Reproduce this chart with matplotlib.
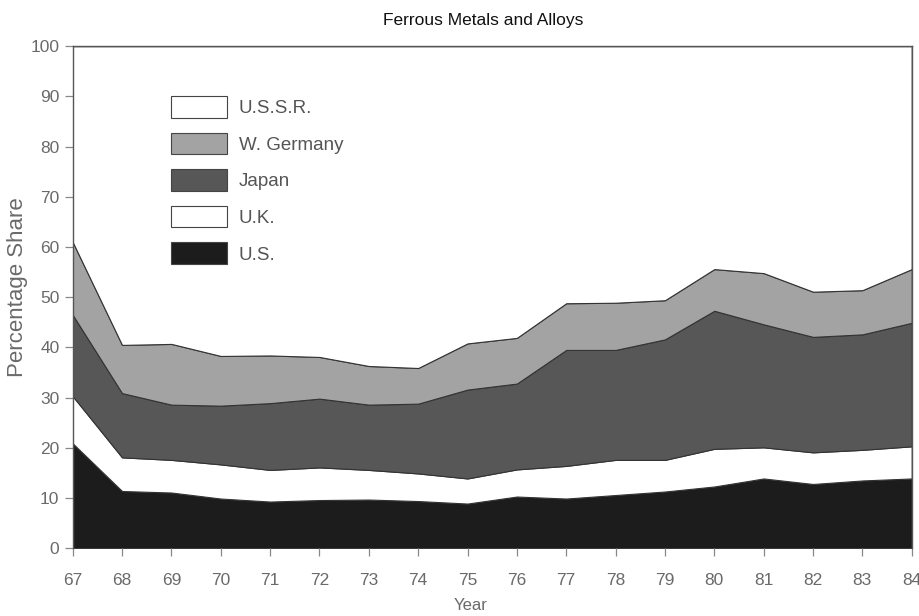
import matplotlib.pyplot as plt

years = [67, 68, 69, 70, 71, 72, 73, 74, 75, 76, 77, 78, 79, 80, 81, 82, 83, 84]
us = [20.9, 11.4, 11.1, 9.9, 9.3, 9.6, 9.7, 9.4, 8.9, 10.3, 9.9, 10.6, 11.3, 12.3, 13.9, 12.8, 13.5, 13.9]
uk = [9.4, 6.7, 6.5, 6.8, 6.3, 6.5, 5.9, 5.5, 5.0, 5.4, 6.5, 7.0, 6.3, 7.5, 6.2, 6.3, 6.1, 6.4]
japan = [16.2, 12.8, 11.0, 11.7, 13.3, 13.7, 13.0, 13.9, 17.7, 17.1, 23.1, 21.9, 24.0, 27.5, 24.5, 23.0, 23.0, 24.6]
w_germany = [14.5, 9.6, 12.1, 9.9, 9.5, 8.3, 7.7, 7.1, 9.2, 9.1, 9.3, 9.4, 7.8, 8.3, 10.2, 9.0, 8.8, 10.7]
ussr = [39.0, 59.5, 59.3, 61.7, 61.6, 61.9, 63.7, 64.1, 59.2, 58.1, 51.2, 51.1, 50.6, 44.4, 45.2, 48.9, 48.6, 44.4]

labels = ['U.S.', 'U.K.', 'Japan', 'W. Germany', 'U.S.S.R.']
colors = ['#1c1c1c', '#ffffff', '#575757', '#a3a3a3', '#ffffff']
text_color = '#6a6a6a'

plt.rcParams['font.family'] = ['Liberation Sans', 'DejaVu Sans']

fig = plt.figure(figsize=(9.2, 6.16), dpi=100)
ax = fig.add_axes([0.079, 0.110, 0.912, 0.815])

polys = ax.stackplot(years, us, uk, japan, w_germany, ussr,
                     colors=colors, labels=labels,
                     edgecolor='#333333', linewidth=0.8)

ax.set_xlim(67, 84)
ax.set_ylim(0, 100)
ax.set_xticks(years)
ax.set_xticklabels([str(y) for y in years])
ax.set_yticks(range(0, 101, 10))

for side in ['top', 'right', 'left']:
    ax.spines[side].set_color('#555555')
    ax.spines[side].set_linewidth(1.0)
ax.spines['bottom'].set_visible(False)

ax.tick_params(axis='both', colors='#888888', labelcolor=text_color,
               labelsize=12.5, length=6, width=0.9, direction='out')
ax.tick_params(axis='x', pad=12)

ax.set_ylabel('Percentage Share', fontsize=16, color=text_color)
ax.yaxis.set_label_coords(-0.053, 0.52)
ax.set_xlabel('Year', fontsize=12, color=text_color)
ax.xaxis.set_label_coords(0.474, -0.100)
fig.text(0.525, 0.967, 'Ferrous Metals and Alloys', fontsize=12.5,
         color='#111111', ha='center', va='center')

handles, lbls = ax.get_legend_handles_labels()
leg = ax.legend(handles[::-1], lbls[::-1], loc='upper left',
                bbox_to_anchor=(0.1085, 0.916), frameon=False,
                fontsize=13.5, handlelength=3.0, handleheight=1.4,
                labelspacing=0.8, handletextpad=0.6, borderaxespad=0)
for t in leg.get_texts():
    t.set_color('#555555')
for h in leg.legend_handles:
    h.set_edgecolor('#444444')
    h.set_linewidth(0.8)

fig.savefig('out.png', dpi=100)
